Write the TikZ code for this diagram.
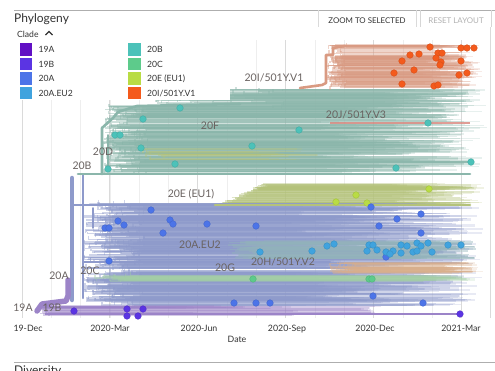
\documentclass[tikz,border=0pt]{standalone}
\usepackage{fontspec}
\setmainfont{Lato}
\definecolor{c19A}{HTML}{6110C4}
\definecolor{c19B}{HTML}{5B34E3}
\definecolor{c20A}{HTML}{4C74E8}
\definecolor{cEU2}{HTML}{40A3DE}
\definecolor{c20B}{HTML}{4CC2B9}
\definecolor{c20C}{HTML}{5DCB8B}
\definecolor{c20E}{HTML}{B9DC44}
\definecolor{c20I}{HTML}{F45A1C}
\definecolor{tPurple}{HTML}{9C84C8}
\definecolor{tLav}{HTML}{8E9ACB}
\definecolor{tTeal}{HTML}{8BB6AB}
\definecolor{tE}{HTML}{B4C27A}
\definecolor{tEU2}{HTML}{93B3BB}
\definecolor{tG}{HTML}{D9AF8C}
\definecolor{tC}{HTML}{A3CFA5}
\definecolor{tI}{HTML}{D99A82}
\definecolor{tJ}{HTML}{D9857C}
\definecolor{labgray}{HTML}{6A6361}
\definecolor{gridmin}{HTML}{EEEEEE}
\definecolor{gridmaj}{HTML}{DADADA}
\definecolor{txt}{HTML}{333333}
\newcommand\treeband[9]{%
\foreach \i in {1,...,#4}{%
 \pgfmathsetmacro\yy{#2+(#3-#2)*rnd}%
 \pgfmathsetmacro\xs{#5+#6*rnd}%
 \pgfmathsetmacro\xe{#7+#8*rnd}%
 \pgfmathsetmacro\xf{\xe+#9*rnd}%
 \pgfmathsetmacro\yv{\yy+8*rnd-4}%
 \draw[#1] (\xs,\yv) -- (\xs,\yy) -- (\xe,\yy);
 \draw[#1,opacity=.2] (\xe,\yy) -- (\xf,\yy);
}}
\begin{document}
\begin{tikzpicture}[x=1pt,y=-1pt,
  branch/.style={line width=1.5pt,opacity=.42},
  tealb/.style={branch,draw=tTeal},
  orangeb/.style={branch,draw=tI},
  eb/.style={branch,draw=tE},
  lavb/.style={branch,draw=tLav},
  eub/.style={branch,draw=tEU2},
  gb/.style={branch,draw=tG},
  cb/.style={branch,draw=tC},
  pb/.style={branch,draw=tPurple},
  trunk/.style={line width=2.6pt,line cap=round,line join=round},
  tip/.style={line width=0.4pt,draw=#1!88!black},
  clab/.style={text=labgray,font=\fontsize{10.5}{12}\selectfont,inner sep=1pt},
  ticklab/.style={text=txt,font=\fontsize{8.8}{10}\selectfont,anchor=base},
  legsq/.style={minimum size=12.5pt,inner sep=0pt,draw=none},
  leglab/.style={text=txt,font=\fontsize{8.6}{10}\selectfont,anchor=base west,inner sep=0pt},
  btn/.style={font=\fontsize{7.9}{9}\selectfont,anchor=base,inner sep=0pt}]
\useasboundingbox (0,0) rectangle (495,370);
\clip (0,0) rectangle (495,370);
\fill[white] (0,0) rectangle (495,370);
\pgfmathsetseed{7}
% grid
\foreach \k in {0,...,15}{
  \draw[gridmin,line width=0.8pt] ({22+\k*29.3},40) -- ({22+\k*29.3},318);}
\foreach \k in {0,3,...,15}{
  \draw[gridmaj,line width=0.9pt] ({22+\k*29.3},40) -- ({22+\k*29.3},318);}
\draw[gridmaj,line width=0.8pt] (490,27) -- (490,318);
% teal clade
\treeband{tealb}{106}{172}{230}{103}{45}{320}{150}{25}
\treeband{tealb}{89}{106}{60}{145}{140}{380}{95}{15}
\treeband{eb}{148}{160}{12}{140}{30}{250}{80}{10}
\draw[tealb,opacity=.9,line width=1.6pt] (140,162) -- (471,162);
\draw[tJ,line width=1.3pt,opacity=.8] (330,123) -- (470,123);
% orange clade
\treeband{orangeb}{45}{88}{120}{327}{20}{420}{55}{10}
% 20E fan
\foreach \i in {1,...,80}{
  \pgfmathsetmacro\yy{183+22*rnd}
  \pgfmathsetmacro\xs{215+(205-\yy)*2.2+12*rnd}
  \pgfmathsetmacro\xe{390+85*rnd}
  \draw[eb] (\xs,\yy) -- (\xe,\yy);
  \draw[eb,opacity=.2] (\xe,\yy) -- ({\xe+15*rnd},\yy);}
% lavender clade
\treeband{lavb}{203}{306}{400}{84}{60}{290}{180}{20}
% 20A.EU2
\foreach \i in {1,...,55}{
  \pgfmathsetmacro\yy{240+18*rnd}
  \pgfmathsetmacro\xs{228+40*rnd}
  \pgfmathsetmacro\xe{420+58*rnd}
  \draw[eub] (\xs,\yy) -- (\xe,\yy);}
\treeband{gb}{262}{273}{40}{330}{30}{440}{35}{10}
\treeband{cb}{275}{282}{18}{95}{40}{420}{50}{10}
\treeband{pb}{306}{316}{24}{40}{10}{150}{250}{10}
\draw[tPurple,line width=1.8pt] (45,314) -- (460,314);
% trunks
\draw[trunk,tLav,line width=4.5pt] (72,300) -- (72,178);
\draw[trunk,tLav] (83,298) -- (83,175);
\draw[trunk,tLav,line width=1.8pt] (93,228) -- (93,208);
\draw[trunk,tLav] (72,205) -- (300,205);
\draw[trunk,tLav,line width=2pt] (83,262) -- (330,262);
\draw[trunk,tTeal] (78,174) -- (470,174);
\draw[trunk,tTeal] (102,174) -- (102,128) -- (113,118) -- (118,112) -- (137,106) -- (240,104);
\draw[trunk,tTeal,line width=1.8pt] (108,170) -- (108,135);
\draw[trunk,tE] (215,205) -- (470,205);
\draw[trunk,tI] (300,88) -- (322,85) -- (326,83) -- (326,55) -- (333,55) -- (333,48) -- (345,46);
\draw[trunk,tPurple,line width=5.5pt] (37,311) -- (42,304) -- (66,301) -- (68,296) -- (68,280);
% legend background
\fill[white] (14,10) rectangle (230,100);
% dots
\foreach \p in {(430,47),(461,48),(467,48),(474,48),(410,55),(419,54),(438,53),(442,53),(436,58),(441,62),(440,65),(402,61),(461,61),(394,73),(414,70),(459,75),(467,73),(402,84),(434,86),(438,85)}
  \filldraw[fill=c20I,tip=c20I] \p circle[radius=3.3pt];
\foreach \p in {(180,108),(143,119),(115,135),(120,135),(141,148),(108,169),(175,164),(428,123),(299,130),(252,146),(471,162),(396,168)}
  \filldraw[fill=c20B,tip=c20B] \p circle[radius=3.3pt];
\foreach \p in {(429,189),(356,195),(336,202),(367,203)}
  \filldraw[fill=c20E,tip=c20E] \p circle[radius=3.3pt];
\foreach \p in {(151,210),(118,221),(124,225),(170,220),(173,224),(207,224),(105,228),(109,228),(371,207),(421,214),(397,219),(256,226),(379,226),(109,261),(163,233),(234,303),(421,233),(386,257),(373,296),(256,303),(270,303),(423,303)}
  \filldraw[fill=c20A,tip=c20A] \p circle[radius=3.3pt];
\foreach \p in {(260,252),(312,251),(327,246),(334,244),(369,245),(373,245),(367,251),(377,250),(386,252),(393,251),(401,245),(401,253),(407,246),(413,252),(417,243),(417,251),(421,246),(428,243),(432,252),(448,245),(461,245),(390,254)}
  \filldraw[fill=cEU2,tip=cEU2] \p circle[radius=3.3pt];
\foreach \p in {(253,279),(369,279),(372,279)}
  \filldraw[fill=c20C,tip=c20C] \p circle[radius=3.3pt];
\foreach \p in {(74,311),(127,309),(143,309),(127,316),(138,316),(460,314)}
  \filldraw[fill=c19B,tip=c19B] \p circle[radius=3.3pt];
% clade labels
\node[clab] (l20I) at (274,78) {20I/501Y.V1};
\node[clab] (l20J) at (356,115) {20J/501Y.V3};
\node[clab] (l20F) at (210,126) {20F};
\node[clab] (l20D) at (103,152) {20D};
\node[clab] (l20B) at (82,166) {20B};
\node[clab] (l20E) at (191,194) {20E (EU1)};
\node[clab] (l20AEU2) at (200,245) {20A.EU2};
\node[clab] (l20G) at (225,268) {20G};
\node[clab] (l20H) at (283,262) {20H/501Y.V2};
\node[clab] (l20C) at (90,271) {20C};
\node[clab] (l20A) at (59,276) {20A};
\node[clab] (l19A) at (23,308) {19A};
\node[clab] (l19B) at (52,308) {19B};
% header
\draw[gridmaj!80!black,line width=0.7pt] (14,10) -- (495,10);
\node[text=txt,font=\fontsize{12}{14}\selectfont,anchor=base west,inner sep=0pt] (title) at (14,22) {Phylogeny};
\node[text=txt,font=\fontsize{8.6}{10}\selectfont,anchor=base west,inner sep=0pt] (clade) at (17,37) {Clade};
\draw[txt,line width=1.3pt] (45.5,35) -- (49,31.5) -- (52.5,35);
\draw[gridmaj] (318,10) -- (318,27) (416,10) -- (416,27);
\draw[gridmin!90!black] (420,10) -- (420,27) (491,10) -- (491,27);
\node[btn,text=txt] (zoomsel) at (367,23) {ZOOM TO SELECTED};
\node[btn,text=black!30] (reset) at (456,23) {RESET LAYOUT};
% legend
\node[legsq,fill=c19A,anchor=north west] (s19A) at (19.5,43) {};
\node[legsq,fill=c19B,anchor=north west] (s19B) at (19.5,57.5) {};
\node[legsq,fill=c20A,anchor=north west] (s20A) at (19.5,72) {};
\node[legsq,fill=cEU2,anchor=north west] (sEU2) at (19.5,86.5) {};
\node[legsq,fill=c20B,anchor=north west] (s20B) at (128,43) {};
\node[legsq,fill=c20C,anchor=north west] (s20C) at (128,57.5) {};
\node[legsq,fill=c20E,anchor=north west] (s20E) at (128,72) {};
\node[legsq,fill=c20I,anchor=north west] (s20I) at (128,86.5) {};
\node[leglab] (t19A) at (38.5,52.8) {19A};
\node[leglab] (t19B) at (38.5,67.3) {19B};
\node[leglab] (t20A) at (38.5,81.8) {20A};
\node[leglab] (tEU2) at (38.5,96.3) {20A.EU2};
\node[leglab] (t20B) at (147,52.8) {20B};
\node[leglab] (t20C) at (147,67.3) {20C};
\node[leglab] (t20E) at (147,81.8) {20E (EU1)};
\node[leglab] (t20I) at (147,96.3) {20I/501Y.V1};
% axis
\node[ticklab] (x1) at (28,331.5) {19-Dec};
\node[ticklab] (x2) at (110,331.5) {2020-Mar};
\node[ticklab] (x3) at (199,331.5) {2020-Jun};
\node[ticklab] (x4) at (287,331.5) {2020-Sep};
\node[ticklab] (x5) at (375,331.5) {2020-Dec};
\node[ticklab] (x6) at (461,331.5) {2021-Mar};
\node[ticklab] (xdate) at (237,342.5) {Date};
\draw[gridmaj!80!black,line width=0.7pt] (14,362) -- (495,362);
\node[text=txt,font=\fontsize{12}{14}\selectfont,anchor=base west,inner sep=0pt] (div) at (14,374) {Diversity};
\end{tikzpicture}
\end{document}
